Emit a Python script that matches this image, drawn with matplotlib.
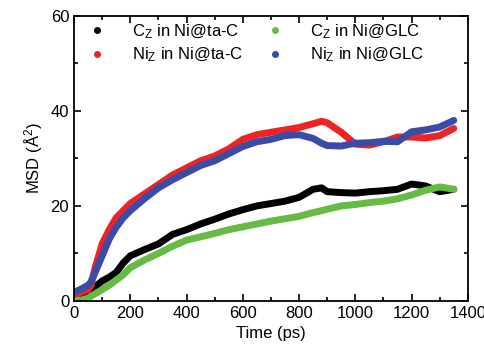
import matplotlib
matplotlib.use("Agg")
import matplotlib.pyplot as plt
from matplotlib.ticker import MultipleLocator

matplotlib.rcParams.update({
    'font.family': 'Liberation Sans',
    'font.size': 12,
    'mathtext.fontset': 'custom',
    'mathtext.rm': 'Liberation Sans',
    'mathtext.it': 'Liberation Sans',
})

# time (ps)
time_ps = [0, 25, 50, 60, 75, 100, 125, 150, 175, 200, 250, 300, 350, 400, 450, 500,
           550, 600, 650, 700, 750, 800, 850, 880, 900, 950, 1000, 1050, 1100, 1150,
           1200, 1250, 1300, 1350]

# MSD (Å^2)
c_tac = [0.3, 0.8, 1.4, 1.9, 3.0, 4.2, 5.0, 6.0, 8.0, 9.5, 10.8, 12.0, 14.0, 15.0,
         16.2, 17.2, 18.3, 19.2, 20.0, 20.5, 21.0, 21.8, 23.5, 23.8, 23.0, 22.8, 22.7,
         23.0, 23.2, 23.5, 24.6, 24.2, 23.0, 23.5]
ni_tac = [1.3, 1.8, 2.4, 3.2, 7.0, 12.0, 15.0, 17.5, 19.0, 20.5, 22.5, 24.5, 26.5,
          28.0, 29.5, 30.5, 32.0, 34.0, 35.0, 35.5, 36.0, 36.5, 37.3, 37.8, 37.5, 35.5,
          33.0, 32.8, 33.5, 34.5, 34.5, 34.3, 34.8, 36.3]
c_glc = [0.0, 0.2, 0.6, 1.0, 1.5, 2.4, 3.3, 4.4, 5.5, 7.0, 8.6, 10.0, 11.5, 12.8,
         13.5, 14.2, 15.0, 15.6, 16.2, 16.8, 17.3, 17.8, 18.6, 19.0, 19.3, 20.0, 20.3,
         20.7, 21.0, 21.5, 22.3, 23.3, 24.0, 23.5]
ni_glc = [1.8, 2.5, 3.3, 4.0, 6.0, 9.5, 13.0, 15.5, 17.5, 19.0, 21.5, 23.8, 25.5,
          27.0, 28.5, 29.5, 31.0, 32.5, 33.5, 34.0, 34.8, 35.0, 34.2, 33.2, 32.7, 32.6,
          33.2, 33.3, 33.6, 33.5, 35.6, 36.0, 36.6, 38.0]

series = [
    (c_tac, "black", r"C$_\mathregular{Z}$ in Ni@ta-C"),
    (ni_tac, "#ee2424", r"Ni$_\mathregular{Z}$ in Ni@ta-C"),
    (c_glc, "#66bb44", r"C$_\mathregular{Z}$ in Ni@GLC"),
    (ni_glc, "#3a4ca8", r"Ni$_\mathregular{Z}$ in Ni@GLC"),
]

fig = plt.figure(figsize=(4.85, 3.52), dpi=100)
ax = fig.add_axes([0.1526, 0.145, 0.812, 0.81])

for vals, col, lab in series:
    ax.plot(time_ps, vals, "-", color=col, linewidth=5, solid_joinstyle="round",
            solid_capstyle="round")
    ax.plot([], [], "o", color=col, markersize=4, label=lab)

ax.set_xlim(0, 1400)
ax.set_ylim(0, 60)
ax.xaxis.set_major_locator(MultipleLocator(200))
ax.xaxis.set_minor_locator(MultipleLocator(100))
ax.yaxis.set_major_locator(MultipleLocator(20))
ax.yaxis.set_minor_locator(MultipleLocator(10))
ax.tick_params(which="both", direction="in", top=True, right=True, width=1.2)
ax.tick_params(which="major", length=5)
ax.tick_params(which="minor", length=3)
for s in ax.spines.values():
    s.set_linewidth(1.3)

ax.set_xlabel("Time (ps)")
ax.set_ylabel("MSD (Å$^\\mathregular{2}$)")
ax.legend(ncol=2, frameon=False, loc="upper left", handletextpad=1.1,
          columnspacing=0.9, borderaxespad=0.0, labelspacing=0.3, fontsize=12)

fig.savefig("out.png")
